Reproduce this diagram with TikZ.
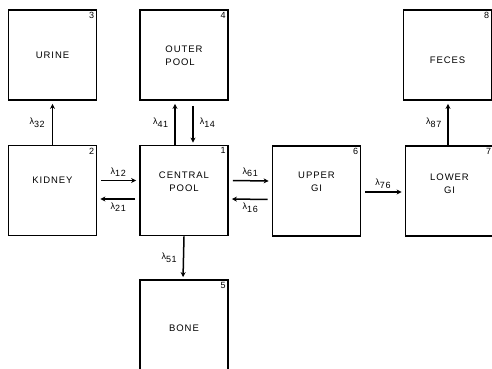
\documentclass[tikz,border=0pt]{standalone}
\usepackage{fontspec}
\setmainfont{Liberation Sans}
\usetikzlibrary{arrows.meta,positioning}

\tikzset{
  comp/.style={draw, line width=1.8pt, minimum width=88pt, minimum height=90pt, inner sep=0pt},
  txt/.style={font=\fontsize{9.5}{13}\selectfont\addfontfeatures{LetterSpace=10}, align=center},
  num/.style={font=\fontsize{9}{10}\selectfont, anchor=north east, inner sep=3pt},
  flow/.style={-{Stealth[length=5pt,width=5pt]}, line width=1.5pt},
  rate/.style={font=\fontsize{9}{10}\selectfont, inner sep=3pt}
}
\newcommand{\lam}[1]{λ\raisebox{-2.5pt}{\addfontfeatures{LetterSpace=8}#1}}

\begin{document}
\begin{tikzpicture}[x=1pt, y=-1pt]
    \useasboundingbox (0,0) rectangle (492,369);
    \clip (0,0) rectangle (492,369);

    % Compartments
    \node[comp] (urine)   at (52.5, 55) {};
    \node[comp] (outer)   at (184, 55) {};
    \node[comp] (feces)   at (447.5, 55) {};
    \node[comp] (kidney)  at (52.5, 190.5) {};
    \node[comp] (central) at (184, 190.5) {};
    \node[comp] (upper)   at (316.5, 191) {};
    \node[comp] (lower)   at (449.5, 191) {};
    \node[comp] (bone)    at (184, 325) {};

    % Names
    \node[txt] at (urine.center) {URINE};
    \node[txt, align=left] at ([yshift=-1pt]outer.center) {OUTER\\POOL};
    \node[txt] at ([yshift=-5pt]feces.center) {FECES};
    \node[txt] at ([yshift=10pt]kidney.center) {KIDNEY};
    \node[txt] at ([yshift=9pt]central.center) {CENTRAL\\POOL};
    \node[txt] at ([yshift=9pt]upper.center) {UPPER\\GI};
    \node[txt] at ([yshift=7pt]lower.center) {LOWER\\GI};
    \node[txt] at ([yshift=-3pt]bone.center) {BONE};

    % Numbers
    \node[num] at (central.north east) {1};
    \node[num] at (kidney.north east) {2};
    \node[num] at (urine.north east) {3};
    \node[num] at (outer.north east) {4};
    \node[num] at (bone.north east) {5};
    \node[num] at (upper.north east) {6};
    \node[num] at (lower.north east) {7};
    \node[num] at (feces.north east) {8};

    % Transfers
    \draw[flow, shorten >=3pt] (kidney.north) -- (urine.south) node[rate, midway, left=4pt] {\lam{32}};
    \draw[flow, shorten >=3pt] ([xshift=-9pt]central.north) -- ([xshift=-9pt]outer.south) node[rate, midway, left=3pt] {\lam{41}};
    \draw[flow, shorten <=5pt, shorten >=2pt] ([xshift=9pt]outer.south) -- ([xshift=9pt]central.north) node[rate, midway, right=3pt] {\lam{14}};
    \draw[flow, shorten <=4pt, shorten >=3pt] ([yshift=10pt]kidney.east) -- ([yshift=10pt]central.west) node[rate, midway, above] {\lam{12}};
    \draw[flow, shorten <=4pt, shorten >=3pt] ([yshift=-8.5pt]central.west) -- ([yshift=-8.5pt]kidney.east) node[rate, midway, below] {\lam{21}};
    \draw[flow, shorten <=4pt, shorten >=3pt] ([yshift=10pt]central.east) -- ([yshift=10pt]upper.west) node[rate, midway, above] {\lam{61}};
    \draw[flow, shorten <=4pt, shorten >=3pt] ([yshift=-8.5pt]upper.west) -- ([yshift=-8.5pt]central.east) node[rate, midway, below] {\lam{16}};
    \draw[flow, shorten <=4pt, shorten >=3pt] ([yshift=-1pt]upper.east) -- ([yshift=-1pt]lower.west) node[rate, midway, above] {\lam{76}};
    \draw[flow, shorten >=2pt] (central.south) -- ([xshift=-1pt]bone.north) node[rate, midway, left=3pt] {\lam{51}};
    \draw[flow, shorten >=3pt] ([xshift=-1.5pt]lower.north) -- ([xshift=0.5pt]feces.south) node[rate, midway, left=3pt] {\lam{87}};
\end{tikzpicture}
\end{document}
